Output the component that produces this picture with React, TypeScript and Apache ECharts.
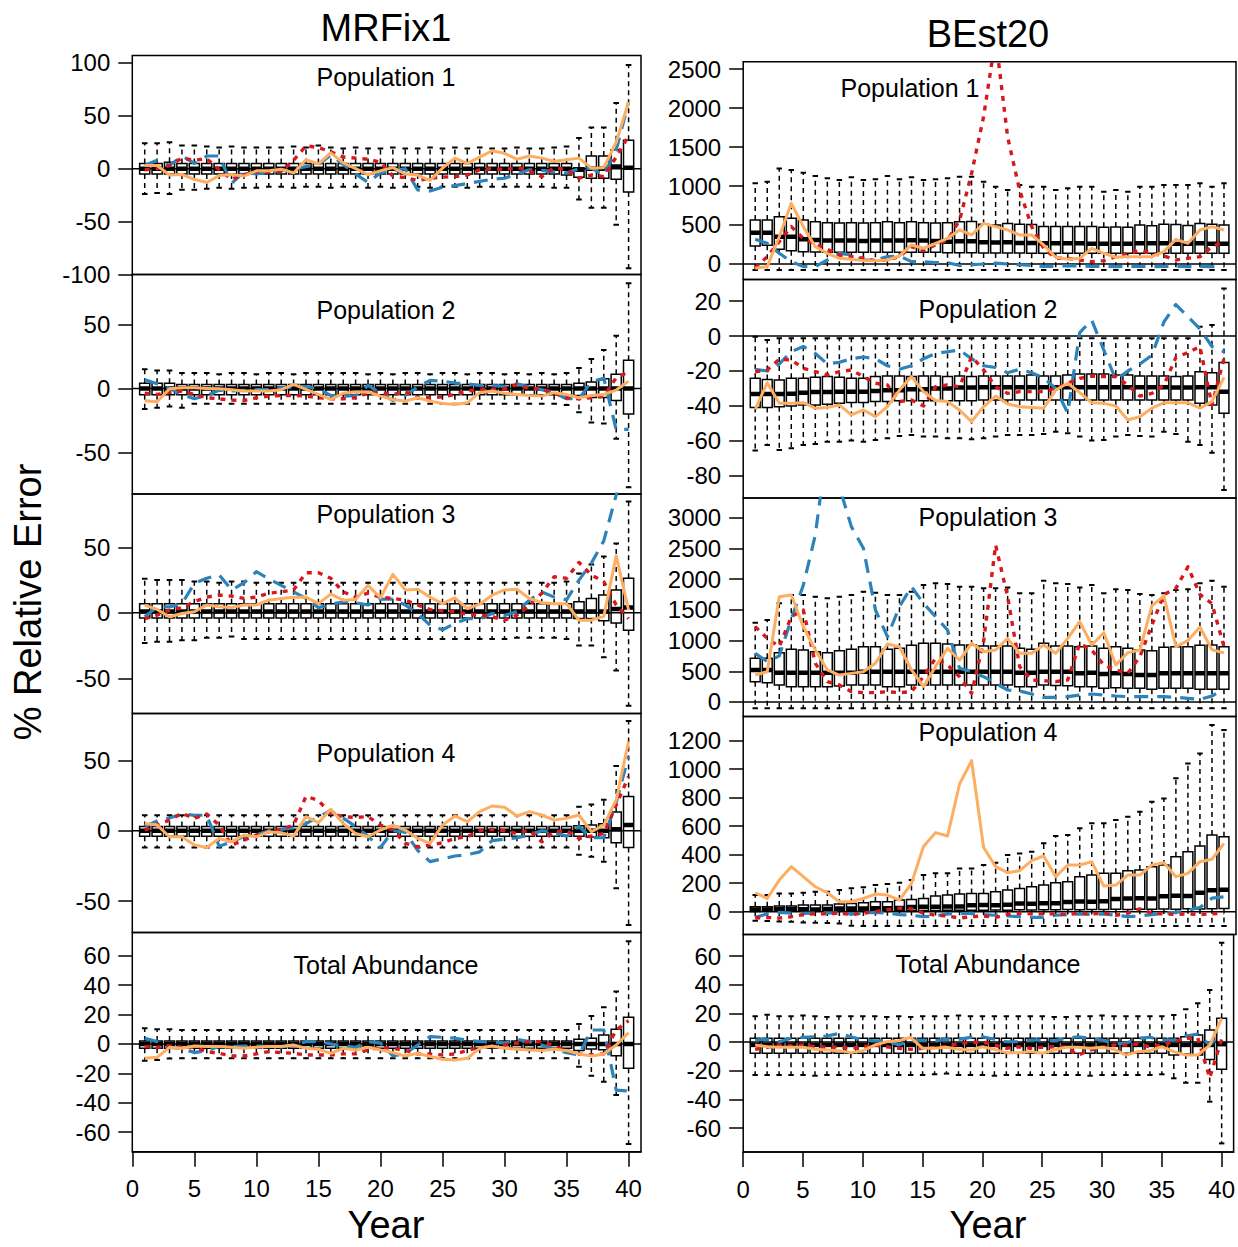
import React, { useEffect, useRef } from "react";
import * as echarts from "echarts";

// ---------------- DATA ----------------
const YEARS = [1,2,3,4,5,6,7,8,9,10,11,12,13,14,15,16,17,18,19,20,21,22,23,24,25,26,27,28,29,30,31,32,33,34,35,36,37,38,39,40];
const X_TICKS = [0,5,10,15,20,25,30,35,40];

const TICKS_L1 = [-100,-50,0,50,100];
const TICKS_L2 = [-50,0,50];
const TICKS_L3 = [-50,0,50];
const TICKS_L4 = [-50,0,50];
const TICKS_L5 = [-60,-40,-20,0,20,40,60];
const TICKS_R1 = [0,500,1000,1500,2000,2500];
const TICKS_R2 = [-80,-60,-40,-20,0,20];
const TICKS_R3 = [0,500,1000,1500,2000,2500,3000];
const TICKS_R4 = [0,200,400,600,800,1000,1200];
const TICKS_R5 = [-60,-40,-20,0,20,40,60];

// MRFix1 Population 1
const L1_HI = [24,24,25,22,22,21,20,21,20,20, 20,20,21,20,22,20,19,20,19,19, 20,19,19,20,19,20,19,20,19,19, 20,19,19,20,21,29,39,39,62,98];
const L1_Q3 = [5,5,6,5,5,5,5,5,5,5, 5,5,5,5,5,5,5,5,5,5, 5,5,5,5,5,5,5,5,5,5, 5,5,5,5,5,1,12,12,18,27];
const L1_MED = [0,0,0,0,0,0,0,0,0,0, 0,0,0,0,0,0,0,0,0,0, 0,0,0,0,0,0,0,0,0,0, 0,0,0,0,0,-1,0,0,2,1];
const L1_Q1 = [-5,-5,-5,-5,-5,-5,-5,-5,-5,-5, -5,-5,-5,-5,-5,-5,-5,-5,-5,-5, -5,-5,-5,-5,-5,-5,-5,-5,-5,-5, -5,-5,-5,-5,-6,-8,-9,-9,-10,-22];
const L1_LO = [-24,-23,-24,-20,-20,-19,-18,-19,-18,-18, -17,-17,-18,-17,-17,-18,-17,-17,-18,-17, -18,-17,-17,-18,-17,-17,-18,-17,-17,-17, -17,-17,-17,-18,-18,-29,-37,-37,-53,-94];
const L1_BLUE = [3,8,3,12,5,12,12,-14,-3,-5, -3,-2,0,2,4,13,4,-5,-13,-4, -2,0,-20,-21,-17.5,-16,-14,-12,-10,-9, -5,-1,-1.5,-3,-4,0,0.5,-6,17.5,63];
const L1_RED = [-1,0,3,10,8,9.5,-1,-10,-5.5,-3, -3,-2.5,8,21.7,20,16,11,10,9,6, -7,-8.5,-11,-9,-8,-7.5,-6,-1,0,-1, 1,-2,-7.5,1,-1,-9,-6,-7.5,11,31];
const L1_ORANGE = [3,3,-6,-5.5,-10,-13,-6.5,-5.5,-7,-2, -2,-0.5,-4,8.5,4.5,15,5.5,0,-5.5,-2, 1,-5,-6,-11,0.5,10,5,11,17,14.5, 9,12,10,7,8.5,10,0.5,1,25,63];

// MRFix1 Population 2
const L2_HI = [15,14,14,12,12,12,11,12,12,11, 12,12,11,12,12,12,12,12,11,12, 11,12,12,11,12,12,11,12,12,11, 12,11,12,11,12,16,23,30,41,82];
const L2_Q3 = [4,4,4,3,3,3,3,3,3,3, 3,3,3,3,3,3,3,3,3,3, 3,3,3,3,3,3,3,3,3,3, 3,3,3,3,3,4,5,7.5,11,22];
const L2_MED = [0,0,0,0,0,0,0,0,0,0, 0,0,0,0,0,0,0,0,0,0, 0,0,0,0,0,0,0,0,0,0, 0,0,0,0,0,0,0,0,0,0];
const L2_Q1 = [-5,-5,-5,-5,-5,-5,-5,-5,-5,-5, -5,-5,-5,-5,-5,-5,-5,-5,-5,-5, -5,-5,-5,-5,-5,-5,-5,-5,-5,-5, -5,-5,-5,-5,-5,-5.5,-7,-7,-9.4,-20];
const L2_LO = [-16,-15,-14,-15,-12,-12,-12,-12,-12,-12, -12,-12,-12,-12,-12,-12,-12,-12,-12,-12, -12,-12,-12,-12,-12,-12,-12,-12,-12,-12, -12,-12,-12,-12,-13,-18.5,-26.6,-27.4,-39.3,-77];
const L2_BLUE = [6.8,3.6,0,-5,-8,-5.5,-1.5,-2,-1.5,-1, -1,0.5,1,1.5,-0.3,-5.5,-6,-5.5,2.3,-3.6, -9.4,-5.5,1,6.3,5.7,4.2,3.6,2.3,2.3,1.6, 3.6,1,-1,-3.6,-8,-8,5,8,-32,-32];
const L2_RED = [-3.8,-4.7,-3.3,-2,-4.7,-7.3,-8.1,-9.1,-9.4,-7.3, -6,-5.5,-5.5,-6,-7.3,-8,-8,-7.3,-3.3,-3.3, -4.7,-2.7,-7.3,-7.3,-6.5,-4.7,-2,-0.7,-0.7,-0.3, 3.1,-0.3,-0.3,-3.8,-7.3,-8,-7.3,-6,8.3,12.8];
const L2_ORANGE = [-9.6,-10.4,-0.3,0.5,0.5,0,-0.3,-1,-2,-2, -2,-1,3.1,-0.7,-4.7,-8.6,-3.8,-2.7,-2.7,-6, -8.6,-9.9,-7.3,-9.9,-11.7,-12.5,-11.2,-3.3,-2,-3.8, -4.7,-5.5,-6,-3.3,-4.7,-7.3,-5.5,-4.7,-1.3,5.7];

// MRFix1 Population 3
const L3_HI = [26,25,25,25,24,24,23,24,24,23, 23,23,23,23,23,23,23,23,23,23, 23,23,23,23,23,23,23,23,23,23, 23,23,23,23,24,30,37,43,53,85];
const L3_Q3 = [7,7,7,7,7,7,7,7,7,7, 7,7,7,7,7,7,7,7,7,7, 7,7,7,7,7,7,7,7,7,7, 7,7,7,7,7,8.5,11,13.6,17.5,26.4];
const L3_MED = [1,1,1,1,1,1,1,1,1,1, 1,1,1,1,1,1,1,1,1,1, 1,1,1,1,1,1,1,1,1,1, 1,1,1,1,1,1,1,1,3,4];
const L3_Q1 = [-4,-4,-4,-4,-4,-4,-4,-4,-4,-4, -4,-4,-4,-4,-4,-4,-4,-4,-4,-4, -4,-4,-4,-4,-4,-4,-4,-4,-4,-4, -4,-4,-4,-4,-4,-4.4,-4.4,-6,-7.7,-13.3];
const L3_LO = [-23,-22,-22,-21,-21,-19,-19,-18,-20,-20, -20,-20,-20,-20,-20,-20,-20,-20,-20,-20, -20,-20,-20,-20,-20,-20,-20,-20,-20,-20, -19,-19,-19,-19,-20,-25,-25,-34,-44,-71];
const L3_BLUE = [-3,4.6,4.6,7,22.5,26.4,29,17.5,23,31.5, 26,21,16,11,4,6.5,8.5,7.7,6,10.5, 10.5,6,-0.5,-9.5,-13,-8,-4.5,-4.5,-0.5,-2, 1,9.7,16,12,10,25,38,55,90,130];
const L3_RED = [-4.4,-1.8,2,4,8.5,12,13.6,12.8,11,12, 15,16,17.5,30.6,30.6,26.4,16,12,15,12, 11,9.7,6,2.5,1.5,0.8,-1,-1.8,-3,-5.6, -1.8,6,15,27.6,26.4,38.5,29,23.8,6,-4.4];
const L3_ORANGE = [5.9,2.6,-3,-0.5,0.8,6,4.6,4,6,6, 9.7,11,12,12,7,14.3,9.7,10.2,21,11.5, 29.4,17.5,18,12,7,11.5,3.3,6.6,13.5,17.5, 18,11,7.7,7,7,-5.6,-5.6,-2.6,43.5,2];

// MRFix1 Population 4
const L4_HI = [11,11,11,11,11,11,11,11,11,11, 11,11,11,11,11,11,11,11,11,11, 11,11,11,11,11,11,11,11,11,11, 11,11,11,11,11,17,18.6,22,46,78];
const L4_Q3 = [3,3,3,3,3,3,3,3,3,3, 3,3,3,3,3,3,3,3,3,3, 3,3,3,3,3,3,3,3,3,3, 3,3,3,3,3,3.5,4,5,13.4,24.3];
const L4_MED = [0,0,0,0,0,0,0,0,0,0, 0,0,0,0,0,0,0,0,0,0, 0,0,0,0,0,0,0,0,0,0, 0,0,0,0,0,0,0,0,1,4];
const L4_Q1 = [-4,-4,-4,-4,-4,-4,-4,-4,-4,-4, -4,-4,-4,-4,-4,-4,-4,-4,-4,-4, -4,-4,-4,-4,-4,-4,-4,-4,-4,-4, -4,-4,-4,-4,-4,-4,-4.5,-5,-8.6,-12];
const L4_LO = [-12,-12,-12,-12,-12,-12,-12,-12,-12,-12, -12,-12,-12,-12,-12,-12,-12,-12,-12,-12, -12,-12,-12,-12,-12,-12,-12,-12,-12,-12, -12,-12,-12,-12,-12,-17,-18.5,-22,-41,-67];
const L4_BLUE = [3,7,9,12,11,11,-11,-8,-4,-3, 0,1,2,5,10,14,9,3,-4,-12, 0,-1,-14,-22,-20,-18,-17,-15,-7,-6, -5,-3,0,-1,-4,3,-5,-5,20,53];
const L4_RED = [0.5,4,7.6,12.4,8.8,11.9,4,-10.2,-6.7,-3, -0.7,1,4,24.5,21.6,12,10,9.5,10,4, 0.5,-9,-11.4,-10.2,-8.6,-5.5,-4.3,0,1,0, -2,0.5,-7.9,-0.7,0,-5.5,-3.8,-2,18.3,38.6];
const L4_ORANGE = [5.2,4,-4.3,-4.3,-10.2,-11.9,-5.5,-7.9,-3,-4.3, -0.7,-1.4,-3.8,10,5.7,15.2,5.2,-2,-4.3,0.5, 4,0.5,-5.5,-9,4,10.5,6.4,13.6,17.6,16.7, 10.5,13.6,11.2,7.6,8.8,11.2,-0.7,4,21.9,63.6];

// MRFix1 Total Abundance
const L5_HI = [10.7,10,10,9.5,9.5,9.5,9.5,9.5,9.5,9.5, 9.5,9.5,9.5,9.5,9.5,9.5,9.5,9.5,9.5,9.5, 9.5,9.5,9.5,9.5,9.5,9.5,9.5,9.5,9.5,9.5, 9.5,9.5,9.5,9.5,9.5,13.6,19,25,35.7,70];
const L5_Q3 = [2,2,2,2,2,2,2,2,2,2, 2,2,2,2,2,2,2,2,2,2, 2,2,2,2,2,2,2,2,2,2, 2,2,2,2,2,3.2,3.9,6.1,10,18.2];
const L5_MED = [0,0,0,0,0,0,0,0,0,0, 0,0,0,0,0,0,0,0,0,0, 0,0,0,0,0,0,0,0,0,0, 0,0,0,0,0,0,0,0,0,0];
const L5_Q1 = [-3,-3,-3,-3,-3,-3,-3,-3,-3,-3, -3,-3,-3,-3,-3,-3,-3,-3,-3,-3, -3,-3,-3,-3,-3,-3,-3,-3,-3,-3, -3,-3,-3,-3,-3,-4.5,-3.5,-4,-8,-16.6];
const L5_LO = [-11.4,-11,-10,-9.8,-9.8,-9.8,-9.8,-9.8,-9.8,-9.8, -9.8,-9.8,-9.8,-9.8,-9.8,-9.8,-9.8,-9.8,-9.8,-9.8, -9.8,-9.8,-9.8,-9.8,-9.8,-9.8,-9.8,-9.8,-9.8,-9.8, -9.8,-9.8,-9.8,-9.8,-9.8,-15.5,-21.6,-25.7,-34.8,-68.2];
const L5_BLUE = [3.9,1.6,-2.3,-3,-5.9,-4.5,-1.8,-1.8,-1.4,-1.4, -1.8,-2,-0.7,1.6,1.6,0,-1.4,-2.3,1.6,0.5, -8.2,-6.4,-0.7,5,4.5,3.9,2.7,1.6,1.6,0.5, 3.2,1.6,-0.7,-3.6,-5.9,-7.5,9.5,9.5,-31.4,-32];
const L5_RED = [-1.8,-2.3,-1.4,-2.3,-2.3,-5.2,-6.4,-8.2,-8.2,-6.8, -5.2,-5.9,-6.4,-7.5,-7.5,-7.5,-6.8,-6.8,-4.1,-2.3, -3,-4.5,-6.8,-6.8,-7.5,-6.8,-4.5,-2.3,-2.3,-0.7, 0.5,1.6,1.6,-1.4,-4.5,-6.8,-7.5,-6.8,9.5,15.9];
const L5_ORANGE = [-9.8,-9.1,-2.3,-3,-1.4,-1.8,-1.8,-2.3,-3,-2.3, -1.8,-1.8,-0.7,-3,-3.6,-6.4,-3,-4.1,-2.3,-4.1, -5.9,-8.2,-6.4,-8.6,-10.4,-10.9,-9.8,-3,-1.4,-3, -3.6,-4.1,-4.5,-3.6,-4.5,-6.8,-8.2,-6.8,-0.7,7.7];

// BEst20 Population 1
const R1_HI = [1034,1056,1226,1205,1171,1128,1098,1077,1111,1077, 1085,1128,1085,1111,1077,1085,1098,1120,1120,1056, 991,949,1013,991,991,949,970,991,991,927, 949,927,991,991,1013,1013,1013,1034,991,1034];
const R1_Q3 = [564,564,607,585,564,543,530,525,530,525, 530,540,530,540,530,525,530,540,545,510, 500,520,510,505,480,480,480,480,480,470, 475,470,500,490,510,505,495,520,510,500];
const R1_MED = [402,400,350,350,316,308,300,300,300,295, 300,300,300,305,300,295,286,290,290,280, 275,280,270,270,265,265,265,265,260,260, 260,260,265,265,265,260,260,265,260,260];
const R1_Q1 = [231,240,188,171,158,155,150,150,150,150, 150,150,150,150,150,150,145,145,145,140, 140,140,140,137,137,137,137,137,137,137, 137,137,137,137,137,137,137,137,137,137];
const R1_LO = [-77,-77,-77,-77,-77,-77,-77,-77,-77,-77, -77,-77,-77,-77,-77,-77,-77,-77,-77,-77, -77,-77,-77,-77,-77,-77,-77,-77,-77,-77, -77,-77,-77,-77,-77,-77,-77,-77,-77,-77];
const R1_BLUE = [316,265,137,30,-34,-34,51,137,115,51, 51,94,103,30,30,17,17,-20,-10,0, 10,0,-10,-20,-30,-30,-20,-25,-30,-30, -35,-30,-30,-35,-30,-30,-35,-30,-35,-30];
const R1_RED = [-55,94,286,479,329,256,188,115,94,73, 43,51,94,222,171,244,308,560,1160,1889, 2900,1629,944,479,201,73,73,51,30,43, 94,137,171,137,103,51,73,94,222,286];
const R1_ORANGE = [-55,-34,350,778,479,222,137,73,60,43, 43,51,103,244,201,265,329,436,372,521, 479,436,372,372,244,86,60,73,201,137, 86,94,94,94,158,316,265,436,479,436];

// BEst20 Population 2
const R2_HI = [-0.4,-2.3,-1.3,-1.3,-1.3,-1.3,-1.3,-1.3,-1.3,-1.3, -1.3,-1.3,-1.3,-1.3,-1.3,-1.3,-1.3,-1.3,-1.3,-1.3, -1.3,-1.3,-1.3,-1.3,-1.3,-1.3,-1.3,-1.3,-1.3,-1.3, -1.3,-1.3,-1.3,-1.3,-1.3,-1.3,-1.3,5.3,6.3,27.2];
const R2_Q3 = [-24.2,-24.8,-25.1,-24.2,-24.2,-23.6,-23.2,-23.6,-24.2,-24.2, -23.2,-22.9,-22.9,-23.2,-22.9,-22.9,-23.2,-22.9,-23.2,-22.9, -22.9,-22.9,-22.9,-22.3,-22.9,-22.9,-22.3,-21.7,-21.7,-21.7, -22.3,-22.3,-22.9,-22.9,-22.9,-23.2,-22.9,-20.4,-21,-15.2];
const R2_MED = [-33.2,-33.2,-33.2,-33,-32.5,-32,-32,-31.8,-31.8,-31.8, -31.5,-31,-31,-30.5,-30.5,-30,-30,-29.5,-29.5,-29.3, -29.3,-29.3,-29.3,-29.3,-29.3,-29.3,-29.3,-29.3,-29.3,-29.3, -29.3,-29.3,-29.3,-29.3,-29.3,-29.5,-29.5,-29.3,-29.3,-31.8];
const R2_Q1 = [-40.8,-40.8,-40.4,-40,-39.5,-39.4,-39,-38.5,-38,-38, -37.5,-37.5,-37,-37,-37,-37,-37,-37,-37,-36.6, -36.6,-36.6,-36.6,-36.6,-36.6,-36.6,-36.6,-36.6,-36.6,-36.6, -36.6,-36.6,-36.6,-36.6,-36.6,-36.6,-36.6,-38.5,-39.4,-44.2];
const R2_LO = [-65.5,-62.3,-65.1,-64.2,-62.3,-61.7,-60.4,-60.4,-59.8,-60.4, -59.4,-58.5,-57.1,-56.6,-57.5,-57.5,-58.5,-58.5,-59,-58.5, -57.5,-56.6,-56.6,-56.6,-56,-54.7,-55.6,-57.5,-59.8,-59.4, -57.5,-56.6,-57.1,-57.5,-54.7,-56,-60.4,-62.3,-66.7,-88];
const R2_BLUE = [-19,-20,-16,-9,-6,-10,-16,-15,-13,-12, -13,-17,-19,-17,-13,-10,-9,-8,-13,-17, -18,-21,-19,-21,-24,-30,-44,2,9,-8, -25,-20,-16,-11,8,18,11,4,-6,-9];
const R2_RED = [-20.4,-19.4,-13.3,-13.7,-18.5,-20.4,-22.3,-20.4,-19.4,-23.2, -27,-28,-37.5,-36.6,-40,-29,-28,-29,-11.8,-19.4, -29,-32.8,-31.8,-31.8,-31.8,-29.9,-27,-24.2,-22.9,-23.2, -23.2,-28,-34.3,-32.8,-28,-12.2,-9.5,-6.1,-39.4,-12.8];
const R2_ORANGE = [-41.9,-26.7,-38.5,-38.5,-38.1,-41.3,-40.8,-39.4,-45.1,-42.3, -46.1,-40.4,-30.9,-23.2,-31.8,-36.9,-37.5,-42.3,-48.9,-40.4, -34.3,-38.9,-40.4,-40.8,-41.3,-30.9,-27,-32.4,-38.1,-38.5, -40,-48,-46.1,-41.3,-38.1,-38.1,-38.1,-41.3,-37.5,-23.6];

// BEst20 Population 3
const R3_HI = [1291,1334,1606,1742,1742,1714,1687,1714,1742,1796, 1780,1742,1742,1796,1905,1932,1920,1877,1877,1850, 1850,1865,1769,1769,1975,1932,1920,1865,1905,1769, 1835,1823,1758,1742,1769,1823,1835,1932,1975,1877];
const R3_Q3 = [711,711,803,857,846,819,803,835,857,900, 900,857,873,922,955,955,944,928,928,911, 911,911,873,857,955,911,911,900,911,873, 900,873,846,835,890,900,900,922,928,900];
const R3_MED = [521,521,477,477,477,477,477,477,477,493, 493,493,493,493,493,493,493,493,493,493, 493,493,477,477,493,493,493,466,477,456, 466,456,439,439,466,466,466,466,466,466];
const R3_Q1 = [331,315,277,250,250,250,250,260,277,277, 277,250,250,277,277,277,277,277,277,277, 277,277,250,250,277,270,265,250,250,222, 230,222,222,206,222,222,222,206,206,206];
const R3_LO = [-103,-103,-103,-103,-103,-103,-103,-103,-103,-103, -103,-103,-103,-103,-103,-103,-103,-103,-103,-103, -103,-103,-103,-103,-103,-103,-103,-103,-103,-103, -103,-103,-103,-103,-103,-103,-103,-103,-103,-103];
const R3_BLUE = [792,657,750,1350,1900,2718,4200,3500,2854,2502, 1497,1064,1552,1877,1606,1389,1172,548,493,412, 304,195,179,130,76,76,87,114,130,114, 98,87,87,87,87,76,60,43,98,206];
const R3_RED = [1226,1036,900,1389,1497,629,331,277,168,152, 152,168,152,168,412,711,602,412,141,982, 2556,1714,575,358,347,331,358,955,846,602, 521,466,738,1250,1750,1850,2200,1750,1600,900];
const R3_ORANGE = [439,493,1714,1742,1226,846,521,439,466,493, 629,944,900,521,250,575,873,683,955,819, 846,1036,792,792,928,792,1036,1307,928,1128, 602,803,846,1563,1728,900,1000,1220,850,800];

// BEst20 Population 4
const R4_HI = [117,117,128,128,133,140,140,152,164,171, 187,194,203,222,257,269,269,304,304,327, 344,398,409,421,480,531,538,585,620,620, 643,667,702,772,795,936,1041,1111,1310,1275];
const R4_Q3 = [35,35,40,40,47,47,47,54,58,63, 70,70,82,86,93,110,117,124,128,128, 140,152,163,175,187,203,210,246,257,269, 269,288,292,316,328,386,421,461,538,526];
const R4_MED = [16,15,17,17,18,16,19,22,23,22, 25,24,26,33,35,34,37,36,45,47, 46,49,57,56,60,59,68,71,70,73, 90,92,95,93,108,112,110,133,150,154];
const R4_Q1 = [2,3,3,4,4,3,5,5,6,5, 7,6,8,8,9,8,10,10,11,10, 12,11,13,12,14,13,15,14,16,15, 17,16,18,17,19,18,20,19,21,22];
const R4_LO = [-63,-65,-68,-70,-75,-78,-80,-82,-98,-100, -100,-100,-100,-100,-100,-100,-100,-100,-100,-100, -100,-100,-100,-100,-100,-100,-100,-100,-100,-100, -100,-100,-100,-100,-100,-100,-100,-100,-100,-100];
const R4_BLUE = [-40,-15,-5,-10,-12,-10,-8,-10,-15,-10, -5,-10,-20,-25,-35,-30,-15,-15,-10,-20, -25,-30,-35,-40,-40,-25,-20,-15,-20,-15, -25,-35,-30,-20,-10,-5,10,30,95,105];
const R4_RED = [-45,-40,-45,-35,-20,-15,-15,-10,-20,-10, 0,15,25,20,-10,-25,-30,-45,-35,-30, -40,-20,-10,-15,-15,-15,-20,-10,-15,-10, -25,-10,20,-10,-15,-20,-15,-20,-15,-10];
const R4_ORANGE = [133,93,222,316,246,175,133,70,70,93, 124,117,82,199,457,555,531,896,1060,452, 316,274,288,358,391,246,328,328,351,180, 187,257,257,328,344,246,269,351,368,480];

// BEst20 Total Abundance
const R5_HI = [18,19,18,18,18.5,18,17.5,18,18,18, 18,17.5,18,17.5,18,18,18,18.5,18,18, 18,18,18,18,18,17.5,17.5,18,18,18.5, 18,18,18,18,18,18.8,22.8,27,36.3,69.3];
const R5_Q3 = [2.6,2.6,2.6,2.6,2.6,2.6,2.6,2.6,2.6,2.6, 2.6,2.6,2.6,2.6,2.6,2.6,2.6,2.6,2.6,2.6, 2.6,2.6,2.6,2.6,2.6,2.6,2.6,2.6,2.6,2.6, 2.6,2.6,2.6,2.6,2.6,2.6,3.7,4.9,8.4,16.5];
const R5_MED = [-2,-2,-2,-2,-2,-2,-2,-2,-2,-2, -2,-2,-2,-2,-2,-2,-2,-2,-2,-2, -2,-2,-2,-2,-2,-2,-2,-2,-2,-2, -2,-2,-2,-2,-2,-2,-2,-2,-2,-1.5];
const R5_Q1 = [-7.9,-7.9,-7.9,-7.9,-7.9,-7.9,-7.9,-7.9,-7.9,-7.9, -7.9,-7.9,-7.9,-7.9,-7.9,-7.9,-7.9,-7.9,-7.9,-7.9, -7.9,-7.9,-7.9,-7.9,-7.9,-7.9,-7.9,-7.9,-7.9,-7.9, -7.9,-7.9,-7.9,-7.9,-7.9,-9,-8.4,-9,-12.1,-19];
const R5_LO = [-23,-23,-23,-23,-23,-23.5,-23,-23,-23,-23, -23,-23,-23,-23,-23,-22.5,-22,-23,-23,-23, -23.5,-23,-23,-23,-23,-23,-23,-23,-23.5,-23, -23,-23,-23,-23,-22.5,-25.3,-28.4,-28.4,-41.6,-70.7];
const R5_BLUE = [1.4,1.9,0.2,2.6,3.3,3.7,4.2,6,3.7,1.4, 0.9,0.9,-2.1,0.9,1.4,0.9,1.9,1.9,3.3,3.7, 1.9,0.2,0.2,1.4,1.4,0.9,2.6,3.7,2.6,1.4, -0.9,-0.9,2.6,3.3,1.4,1.4,4.2,5.6,-2.1,6];
const R5_RED = [-5.1,-3.7,-2.1,-2.8,-2.1,-3.3,-3.7,-3.3,-4.4,-3.3, -2.1,-3.3,-4.4,-5.1,-4.4,-3.7,-3.3,-0.9,-0.5,0.2, -2.1,-4.4,-3.3,-4.4,-3.7,-3.3,-3.7,-9.1,-5.6,-3.7, -2.1,-2.1,-1.4,-3.3,-2.1,0.2,2.6,3,-25,2];
const R5_ORANGE = [-2.1,-3.3,-3.7,-3.7,-3.7,-5.1,-5.6,-6,-7.4,-6, -2.1,0.2,0.9,3.3,-4.4,-4.4,-3.7,-5.1,-5.6,-3.3, -5.1,-7.4,-7.4,-6.7,-7.9,-5.6,-3.7,-3.7,-4.4,-3.7, -5.1,-9.1,-6.7,-6,-3.3,-6.7,-9.1,-9.1,-2.1,16.5];

// ---------------- LAYOUT / STYLE ----------------
const FONT = '"Liberation Sans", Arial, sans-serif';
const BLUE = "#2b83ba";
const RED = "#d7191c";
const ORANGE = "#fdae61";
const BOX_W = 0.82;

const PANELS = [
  { left: 132.3, top: 55.5, width: 508.7, height: 219, yMin: -100, yMax: 107, ticks: TICKS_L1, title: "Population 1", tx: 386, ty: 77,
    box: [L1_LO, L1_Q1, L1_MED, L1_Q3, L1_HI], lines: [L1_BLUE, L1_RED, L1_ORANGE], bottom: false },
  { left: 132.3, top: 274.5, width: 508.7, height: 219.5, yMin: -82.3, yMax: 88.8, ticks: TICKS_L2, title: "Population 2", tx: 386, ty: 310,
    box: [L2_LO, L2_Q1, L2_MED, L2_Q3, L2_HI], lines: [L2_BLUE, L2_RED, L2_ORANGE], bottom: false },
  { left: 132.3, top: 494, width: 508.7, height: 219.5, yMin: -76.9, yMax: 90.8, ticks: TICKS_L3, title: "Population 3", tx: 386, ty: 514,
    box: [L3_LO, L3_Q1, L3_MED, L3_Q3, L3_HI], lines: [L3_BLUE, L3_RED, L3_ORANGE], bottom: false },
  { left: 132.3, top: 713.5, width: 508.7, height: 219, yMin: -72.4, yMax: 83.4, ticks: TICKS_L4, title: "Population 4", tx: 386, ty: 753,
    box: [L4_LO, L4_Q1, L4_MED, L4_Q3, L4_HI], lines: [L4_BLUE, L4_RED, L4_ORANGE], bottom: false },
  { left: 132.3, top: 932.5, width: 508.7, height: 219.2, yMin: -73.4, yMax: 75.9, ticks: TICKS_L5, title: "Total Abundance", tx: 386, ty: 965,
    box: [L5_LO, L5_Q1, L5_MED, L5_Q3, L5_HI], lines: [L5_BLUE, L5_RED, L5_ORANGE], bottom: true },
  { left: 743.2, top: 61.7, width: 492.8, height: 217.8, yMin: -199, yMax: 2594, ticks: TICKS_R1, title: "Population 1", tx: 910, ty: 88,
    box: [R1_LO, R1_Q1, R1_MED, R1_Q3, R1_HI], lines: [R1_BLUE, R1_RED, R1_ORANGE], bottom: false },
  { left: 743.2, top: 279.5, width: 492.8, height: 218.5, yMin: -92.6, yMax: 32.3, ticks: TICKS_R2, title: "Population 2", tx: 988, ty: 309,
    box: [R2_LO, R2_Q1, R2_MED, R2_Q3, R2_HI], lines: [R2_BLUE, R2_RED, R2_ORANGE], bottom: false },
  { left: 743.2, top: 498, width: 492.8, height: 218.5, yMin: -236, yMax: 3320, ticks: TICKS_R3, title: "Population 3", tx: 988, ty: 517,
    box: [R3_LO, R3_Q1, R3_MED, R3_Q3, R3_HI], lines: [R3_BLUE, R3_RED, R3_ORANGE], bottom: false },
  { left: 743.2, top: 716.5, width: 492.8, height: 218, yMin: -160, yMax: 1370, ticks: TICKS_R4, title: "Population 4", tx: 988, ty: 732,
    box: [R4_LO, R4_Q1, R4_MED, R4_Q3, R4_HI], lines: [R4_BLUE, R4_RED, R4_ORANGE], bottom: false },
  { left: 743.2, top: 934.5, width: 492.8, height: 217.5, yMin: -76.7, yMax: 75, ticks: TICKS_R5, title: "Total Abundance", tx: 988, ty: 964,
    box: [R5_LO, R5_Q1, R5_MED, R5_Q3, R5_HI], lines: [R5_BLUE, R5_RED, R5_ORANGE], bottom: true },
];

function renderBox(params: any, api: any) {
  const x = api.value(0);
  const pLo = api.coord([x, api.value(1)]);
  const pQ1 = api.coord([x, api.value(2)]);
  const pMd = api.coord([x, api.value(3)]);
  const pQ3 = api.coord([x, api.value(4)]);
  const pHi = api.coord([x, api.value(5)]);
  const w = api.size([BOX_W, 0])[0];
  const hw = w / 2;
  const cw = hw * 0.55;
  const cx = pLo[0];
  const dash = { stroke: "#000", lineWidth: 1.5, lineDash: [5, 4] };
  const solid = { stroke: "#000", lineWidth: 2 };
  return {
    type: "group",
    children: [
      { type: "line", shape: { x1: cx, y1: pQ3[1], x2: cx, y2: pHi[1] }, style: dash },
      { type: "line", shape: { x1: cx, y1: pQ1[1], x2: cx, y2: pLo[1] }, style: dash },
      { type: "line", shape: { x1: cx - cw, y1: pHi[1], x2: cx + cw, y2: pHi[1] }, style: solid },
      { type: "line", shape: { x1: cx - cw, y1: pLo[1], x2: cx + cw, y2: pLo[1] }, style: solid },
      { type: "rect", shape: { x: cx - hw, y: pQ3[1], width: w, height: pQ1[1] - pQ3[1] }, style: { fill: "#fff", stroke: "#000", lineWidth: 1.5 } },
      { type: "line", shape: { x1: cx - hw, y1: pMd[1], x2: cx + hw, y2: pMd[1] }, style: { stroke: "#000", lineWidth: 4.5 } },
    ],
  };
}

function plain(v: number) {
  return String(v);
}

function buildOption() {
  const grid: any[] = [];
  const xAxis: any[] = [];
  const yAxis: any[] = [];
  const series: any[] = [];
  const graphic: any[] = [];

  PANELS.forEach((p, k) => {
    grid.push({ left: p.left, top: p.top, width: p.width, height: p.height, show: true, borderColor: "#000", borderWidth: 1.5, backgroundColor: "transparent", containLabel: false });
    xAxis.push({
      gridIndex: k, type: "value", min: 0, max: 41, show: p.bottom, position: "bottom",
      axisLine: { show: true, onZero: false, lineStyle: { color: "#000", width: 1.5 } },
      splitLine: { show: false },
      axisTick: { show: true, inside: false, length: 15, customValues: X_TICKS, lineStyle: { color: "#000", width: 1.5 } },
      axisLabel: { show: true, customValues: X_TICKS, formatter: plain, fontSize: 24, color: "#000", fontFamily: FONT, margin: 25 },
    });
    yAxis.push({
      gridIndex: k, type: "value", min: p.yMin, max: p.yMax,
      axisLine: { show: false },
      splitLine: { show: false },
      axisTick: { show: true, length: 14, customValues: p.ticks, lineStyle: { color: "#000", width: 1.5 } },
      axisLabel: { show: true, customValues: p.ticks, formatter: plain, fontSize: 24, color: "#000", fontFamily: FONT, margin: 22 },
    });
    series.push({
      type: "custom", xAxisIndex: k, yAxisIndex: k, renderItem: renderBox, clip: true, silent: true, z: 2,
      encode: { x: 0, y: [1, 2, 3, 4, 5] },
      data: YEARS.map((yr, i) => [yr, p.box[0][i], p.box[1][i], p.box[2][i], p.box[3][i], p.box[4][i]]),
    });
    series.push({
      type: "line", xAxisIndex: k, yAxisIndex: k, data: [[0, 0], [41, 0]], symbol: "none", silent: true, z: 3,
      lineStyle: { color: "#000", width: 1.5 },
    });
    const styles = [
      { color: BLUE, width: 3.2, type: [14, 9] },
      { color: RED, width: 3.4, type: [5, 6] },
      { color: ORANGE, width: 3, type: "solid" },
    ];
    p.lines.forEach((arr, j) => {
      series.push({
        type: "line", xAxisIndex: k, yAxisIndex: k, symbol: "none", silent: true, clip: true, z: 4 + j,
        data: YEARS.map((yr, i) => [yr, arr[i]]),
        lineStyle: { ...styles[j], cap: "butt", join: "round" },
      });
    });
    graphic.push({
      type: "text", x: p.tx, y: p.ty, z: 100,
      style: { text: p.title, font: `25px ${FONT}`, fill: "#000", textAlign: "center", textVerticalAlign: "middle", verticalAlign: "middle" },
    });
  });

  const big = `38px ${FONT}`;
  graphic.push({ type: "text", x: 386, y: 28, style: { text: "MRFix1", font: big, fill: "#000", textAlign: "center", textVerticalAlign: "middle", verticalAlign: "middle" } });
  graphic.push({ type: "text", x: 988, y: 34, style: { text: "BEst20", font: big, fill: "#000", textAlign: "center", textVerticalAlign: "middle", verticalAlign: "middle" } });
  graphic.push({ type: "text", x: 386, y: 1225, style: { text: "Year", font: big, fill: "#000", textAlign: "center", textVerticalAlign: "middle", verticalAlign: "middle" } });
  graphic.push({ type: "text", x: 988, y: 1225, style: { text: "Year", font: big, fill: "#000", textAlign: "center", textVerticalAlign: "middle", verticalAlign: "middle" } });
  graphic.push({ type: "text", x: 28, y: 602, rotation: Math.PI / 2, style: { text: "% Relative Error", font: big, fill: "#000", textAlign: "center", textVerticalAlign: "middle", verticalAlign: "middle" } });

  return { animation: false, backgroundColor: "#fff", grid, xAxis, yAxis, series, graphic };
}

export default function App() {
  const ref = useRef<HTMLDivElement>(null);
  useEffect(() => {
    const chart = echarts.init(ref.current as HTMLDivElement, null, { renderer: "svg" });
    chart.setOption(buildOption() as any);
    return () => chart.dispose();
  }, []);
  return <div ref={ref} style={{ position: "absolute", left: 0, top: 0, width: 1238, height: 1247, background: "#fff" }} />;
}
